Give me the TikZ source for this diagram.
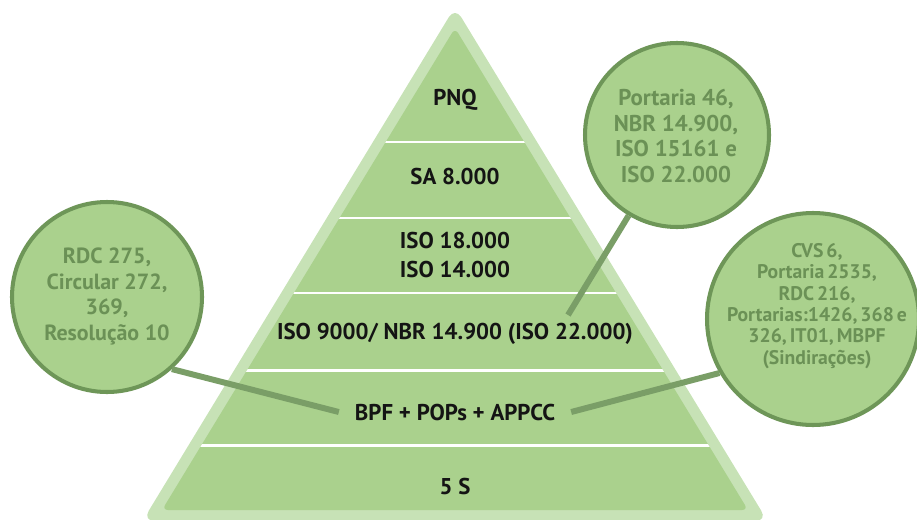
\documentclass[tikz,border=0pt]{standalone}
\usepackage{fontspec}
\setmainfont{PT Sans}
\newfontfamily\narrowspaced[WordSpace=0.6]{PT Sans}
\usetikzlibrary{positioning}

\definecolor{pyrfill}{RGB}{170,209,141}
\definecolor{pyrband}{RGB}{199,226,182}
\definecolor{bubbleline}{RGB}{110,150,88}
\definecolor{bubbleink}{RGB}{107,145,86}
\definecolor{linkgreen}{RGB}{122,158,103}
\definecolor{layerink}{RGB}{20,20,20}

\begin{document}
\begin{tikzpicture}[
    layer/.style={text=layerink, align=center, inner xsep=9pt,
        font=\fontsize{13}{16}\selectfont\bfseries},
    bubble/.style={circle, draw=bubbleline, line width=2.3pt, fill=pyrfill},
    bubbletext/.style={text=bubbleink, align=center,
        font=\fontsize{12.5}{14.7}\selectfont\bfseries},
    link/.style={draw=linkgreen, line width=3.4pt}
    ]
    \useasboundingbox (0,0) rectangle (18.34,10.38);

    % Pyramid: light outer band, then the darker body
    \fill[pyrband, rounded corners=0.24cm]
        (9.10,10.24) -- (15.35,-0.04) -- (2.85,-0.04) -- cycle;
    \fill[pyrfill, rounded corners=0.12cm]
        (9.10,9.82) -- (14.96,0.18) -- (3.24,0.18) -- cycle;

    % white separators between the levels
    \begin{scope}
        \clip (9.10,9.82) -- (14.96,0.18) -- (3.24,0.18) -- cycle;
        \foreach \y in {7.54, 6.02, 4.52, 2.98, 1.48}
            \draw[white, line width=1.7pt] (2,\y) -- (16,\y);
    \end{scope}

    % levels, top to bottom
    \node[layer] (pnq)     at (9.10,8.38) {PNQ};
    \node[layer] (sa)      at (9.10,6.84) {SA 8.000};
    \node[layer] (iso18)   at (9.10,5.28) {ISO 18.000\\ISO 14.000};
    \node[layer] (iso9000) at (9.10,3.70) {ISO 9000/ NBR 14.900 (ISO 22.000)};
    \node[layer] (bpf)     at (9.10,2.14) {BPF + POPs + APPCC};
    \node[layer] (cinco)   at (9.10,0.66) {5 S};

    % legislation bubbles
    \node[bubble, minimum size=3.80cm] (rdc)      at (2.14,4.44) {};
    \node[bubble, minimum size=3.68cm] (portaria) at (13.54,7.68) {};
    \node[bubble, minimum size=4.24cm] (cvs)      at (16.26,4.00) {};

    \node[bubbletext] (rdcText) at (2.14,4.45)
        {RDC 275,\\Circular 272,\\369,\\Resolução 10};
    \node[bubbletext, font=\fontsize{13}{14.7}\selectfont\bfseries]
        (portariaText) at (13.52,7.66)
        {Portaria 46,\\NBR 14.900,\\ISO 15161 e\\ISO 22.000};
    \node[bubbletext, font=\fontsize{11.2}{12.1}\selectfont\narrowspaced\bfseries]
        (cvsText) at (16.34,4.26)
        {CVS 6,\\Portaria 2535,\\RDC 216,\\Portarias:1426, 368 e\\326, IT01, MBPF\\(Sindirações)};

    % connectors
    \coordinate (isoEnd) at (11.36,4.08);
    \draw[link] (rdc.-48) -- (bpf.west);
    \draw[link] (bpf.east) -- (cvs.210);
    \draw[link] (isoEnd) -- (portaria.239);
\end{tikzpicture}
\end{document}
